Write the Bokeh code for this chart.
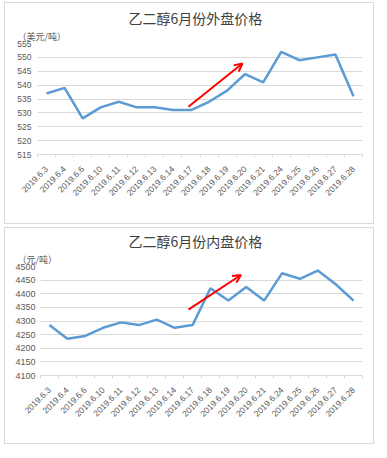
import math
from bokeh.plotting import figure
from bokeh.models import (Range1d, FixedTicker, Arrow, OpenHead, ColumnDataSource, Title, Spacer)
from bokeh.layouts import column, row
from bokeh.embed import file_html
from bokeh.resources import INLINE

# ---------------- data ----------------
dates = ["2019.6.3", "2019.6.4", "2019.6.6", "2019.6.10", "2019.6.11", "2019.6.12",
         "2019.6.13", "2019.6.14", "2019.6.17", "2019.6.18", "2019.6.19", "2019.6.20",
         "2019.6.21", "2019.6.24", "2019.6.25", "2019.6.26", "2019.6.27", "2019.6.28"]

outer_title = "乙二醇6月份外盘价格"
outer_unit = "（美元/吨）"
outer_prices = [537, 539, 528, 532, 534, 532, 532, 531, 531, 534, 538, 544, 541, 552, 549, 550, 551, 536]
outer_ticks = [515, 520, 525, 530, 535, 540, 545, 550, 555]

inner_title = "乙二醇6月份内盘价格"
inner_unit = "（元/吨）"
inner_prices = [4285, 4235, 4245, 4275, 4295, 4285, 4305, 4275, 4285, 4420, 4375, 4425, 4375,
                4475, 4455, 4485, 4435, 4375]
inner_ticks = [4100, 4150, 4200, 4250, 4300, 4350, 4400, 4450, 4500]

# trend arrows (start x, start y, end x, end y) in chart coordinates (category slots)
outer_arrow = (8.36, 532.2, 11.35, 547.8)
inner_arrow = (8.27, 4341.7, 11.2, 4468.7)

LINE = "#5B9BD5"
GRID = "#D9D9D9"
TXT = "#595959"
CJK = "Noto Sans CJK SC"

n = len(dates)
centers = [i + 0.5 for i in range(n)]     # category slot centres
edges = [float(i) for i in range(n + 1)]  # category slot boundaries


def make_chart(title_text, unit_text, values, ticks, arrow, h, left, top, bottom,
               ysize, ystand, title_offset, unit_offset):
    p = figure(width=368, height=h, x_range=Range1d(0, n),
               y_range=Range1d(ticks[0], ticks[-1]),
               output_backend="svg", toolbar_location=None,
               min_border_left=left, min_border_right=11, min_border_top=top,
               min_border_bottom=bottom, title=title_text,
               styles={"outline": "1px solid #D9D9D9"})
    p.outline_line_color = None
    p.background_fill_color = "white"
    p.border_fill_color = "white"

    p.title.align = "left"
    p.title.text_font = CJK
    p.title.text_font_size = "14px"
    p.title.text_font_style = "normal"
    p.title.text_color = "#404040"
    p.title.standoff = 0
    p.title.offset = title_offset

    # unit caption, placed between the title and the plot area
    p.add_layout(Title(text=unit_text, align="left", text_font=CJK, text_font_size="9px",
                       text_font_style="normal", text_color=TXT, offset=unit_offset,
                       standoff=1), "above")

    p.yaxis.ticker = FixedTicker(ticks=ticks)
    p.yaxis.axis_line_color = None
    p.yaxis.major_tick_line_color = None
    p.yaxis.major_tick_out = 0
    p.yaxis.minor_tick_line_color = None
    p.yaxis.major_label_text_font = "Liberation Sans"
    p.yaxis.major_label_text_font_size = ysize
    p.yaxis.major_label_text_color = TXT
    p.yaxis.major_label_standoff = ystand

    p.ygrid.ticker = FixedTicker(ticks=ticks)
    p.ygrid.grid_line_color = GRID
    p.xgrid.visible = False

    xa = p.xaxis[0]
    xa.ticker = FixedTicker(ticks=centers, minor_ticks=edges)
    xa.major_label_overrides = {c: d for c, d in zip(centers, dates)}
    xa.major_tick_line_color = None
    xa.major_tick_out = 0
    xa.minor_tick_line_color = GRID
    xa.minor_tick_out = 3
    xa.minor_tick_in = 0
    xa.axis_line_color = GRID
    xa.major_label_orientation = math.pi / 4
    xa.major_label_text_font = "Liberation Sans"
    xa.major_label_text_font_size = "8.5px"
    xa.major_label_text_color = TXT
    xa.major_label_standoff = 10

    src = ColumnDataSource(dict(x=centers, v=values))
    p.line(x="x", y="v", source=src, line_color=LINE, line_width=2.5)

    xs, ys, xe, ye = arrow
    p.add_layout(Arrow(x_start=xs, y_start=ys, x_end=xe, y_end=ye, line_color="red",
                       line_width=2, end=OpenHead(size=8, line_color="red", line_width=2)))
    return p


p1 = make_chart(outer_title, outer_unit, outer_prices, outer_ticks, outer_arrow,
                220, 32, 40, 69, "8.5px", 6, 91, -20)
p2 = make_chart(inner_title, inner_unit, inner_prices, inner_ticks, inner_arrow,
                215, 35, 36, 68, "9px", 5, 88, -23)

layout = column(Spacer(height=3),
                row(Spacer(width=5), p1),
                Spacer(height=5),
                row(Spacer(width=5), p2))
open("out.html", "w").write(file_html(layout, INLINE))
